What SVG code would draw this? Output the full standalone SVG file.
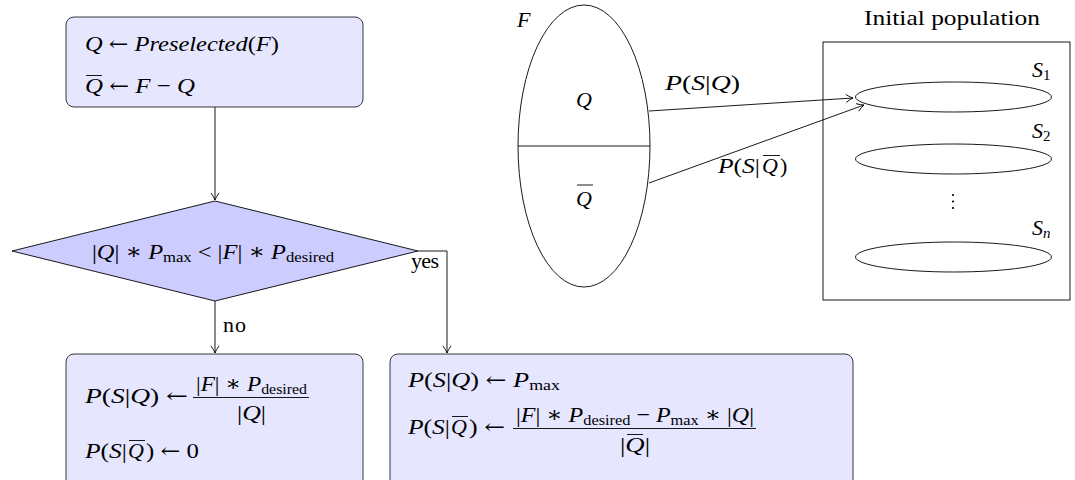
<svg xmlns="http://www.w3.org/2000/svg" width="1075" height="480" viewBox="0 0 1075 480">
<defs>
<marker id="ah" markerWidth="12" markerHeight="12" refX="0" refY="0" viewBox="-8 -6 10 12" orient="auto" markerUnits="userSpaceOnUse">
<path d="M-7,-4 Q-3,-1 0,0 Q-3,1 -7,4" fill="none" stroke="#000" stroke-width="0.9"/>
</marker>
</defs>
<style>
text{font-family:"Liberation Serif","DejaVu Serif",serif;font-size:22px;fill:#000}
.i{font-style:italic}
.sub{font-size:15px}
.ar{font-family:"DejaVu Serif",serif;font-size:21px}
.box{fill:#e6e6ff;stroke:#222;stroke-width:0.9}
.dia{fill:#ccccff;stroke:#000;stroke-width:0.9}
.ln{fill:none;stroke:#000;stroke-width:0.9}
.bar{stroke:#000;stroke-width:0.9}
.c{text-anchor:middle}
</style>
<g id="connectors">
<line class="ln" x1="215" y1="107" x2="215" y2="200" marker-end="url(#ah)"/>
<line class="ln" x1="215" y1="301" x2="215" y2="353" marker-end="url(#ah)"/>
<polyline class="ln" points="418,251 447,251 447,353" marker-end="url(#ah)"/>
<line class="ln" x1="649" y1="111" x2="853" y2="98" marker-end="url(#ah)"/>
<line class="ln" x1="649" y1="183" x2="864" y2="105" marker-end="url(#ah)"/>
<text x="223" y="332" textLength="23">no</text>
<text x="411" y="268" textLength="28">yes</text>
<text x="665" y="90" textLength="75" lengthAdjust="spacingAndGlyphs"><tspan class="i">P</tspan>(<tspan class="i">S</tspan>|<tspan class="i">Q</tspan>)</text>
<text x="718" y="173" textLength="42" lengthAdjust="spacingAndGlyphs"><tspan class="i">P</tspan>(<tspan class="i">S</tspan>|</text>
<text x="762" y="173" class="i">Q</text>
<text x="780" y="173">)</text>
<line class="bar" x1="763" y1="155.5" x2="780" y2="155.5"/>
</g>
<g id="init">
<rect class="box" x="66" y="17" width="297" height="90" rx="8"/>
<text x="85" y="51" textLength="194" lengthAdjust="spacingAndGlyphs"><tspan class="i">Q</tspan> <tspan class="ar">←</tspan> <tspan class="i">Preselected</tspan>(<tspan class="i">F</tspan>)</text>
<text x="85" y="93" textLength="110" lengthAdjust="spacingAndGlyphs"><tspan class="i">Q</tspan> <tspan class="ar">←</tspan> <tspan class="i">F</tspan> − <tspan class="i">Q</tspan></text>
<line class="bar" x1="86" y1="75.5" x2="102" y2="75.5"/>
</g>
<g id="decision">
<polygon class="dia" points="215,201 418,251 215,301 12,251"/>
<text x="92" y="259" textLength="242" lengthAdjust="spacingAndGlyphs">|<tspan class="i">Q</tspan>| ∗ <tspan class="i">P</tspan><tspan class="sub" dy="3">max</tspan><tspan dy="-3"> &lt; |</tspan><tspan class="i">F</tspan>| ∗ <tspan class="i">P</tspan><tspan class="sub" dy="3">desired</tspan></text>
</g>
<g id="no-branch">
<rect class="box" x="66" y="354" width="297" height="140" rx="8"/>
<text x="85" y="403" textLength="103" lengthAdjust="spacingAndGlyphs"><tspan class="i">P</tspan>(<tspan class="i">S</tspan>|<tspan class="i">Q</tspan>) <tspan class="ar">←</tspan></text>
<text x="196" y="391" textLength="111" lengthAdjust="spacingAndGlyphs">|<tspan class="i">F</tspan>| ∗ <tspan class="i">P</tspan><tspan class="sub" dy="3">desired</tspan></text>
<line class="bar" x1="193" y1="397.5" x2="309" y2="397.5"/>
<text x="237" y="420" textLength="29" lengthAdjust="spacingAndGlyphs">|<tspan class="i">Q</tspan>|</text>
<text x="85" y="458" textLength="42" lengthAdjust="spacingAndGlyphs"><tspan class="i">P</tspan>(<tspan class="i">S</tspan>|</text>
<text x="128" y="458" class="i">Q</text>
<line class="bar" x1="129" y1="440.5" x2="145" y2="440.5"/>
<text x="146" y="458" textLength="53" lengthAdjust="spacingAndGlyphs">) <tspan class="ar">←</tspan> 0</text>
</g>
<g id="yes-branch">
<rect class="box" x="390" y="354" width="463" height="140" rx="8"/>
<text x="408" y="387" textLength="152" lengthAdjust="spacingAndGlyphs"><tspan class="i">P</tspan>(<tspan class="i">S</tspan>|<tspan class="i">Q</tspan>) <tspan class="ar">←</tspan> <tspan class="i">P</tspan><tspan class="sub" dy="3">max</tspan></text>
<text x="408" y="434" textLength="42" lengthAdjust="spacingAndGlyphs"><tspan class="i">P</tspan>(<tspan class="i">S</tspan>|</text>
<text x="451" y="434" class="i">Q</text>
<line class="bar" x1="452" y1="416.5" x2="468" y2="416.5"/>
<text x="469" y="434" textLength="36" lengthAdjust="spacingAndGlyphs">) <tspan class="ar">←</tspan></text>
<text x="516" y="422" textLength="238" lengthAdjust="spacingAndGlyphs">|<tspan class="i">F</tspan>| ∗ <tspan class="i">P</tspan><tspan class="sub" dy="3">desired</tspan><tspan dy="-3"> − </tspan><tspan class="i">P</tspan><tspan class="sub" dy="3">max</tspan><tspan dy="-3"> ∗ |</tspan><tspan class="i">Q</tspan>|</text>
<line class="bar" x1="513" y1="428.5" x2="756" y2="428.5"/>
<text x="620" y="452" textLength="30" lengthAdjust="spacingAndGlyphs">|<tspan class="i">Q</tspan>|</text>
<line class="bar" x1="627" y1="434.5" x2="643" y2="434.5"/>
</g>
<g id="setF">
<ellipse class="ln" cx="584" cy="146" rx="66" ry="141"/>
<line class="ln" x1="518" y1="146" x2="650" y2="146"/>
<text x="517" y="27" class="i">F</text>
<text x="584" y="107" class="c i">Q</text>
<text x="584" y="206" class="c i">Q</text>
<line class="bar" x1="577" y1="185" x2="593" y2="185"/>
</g>
<g id="population">
<text x="864" y="25" textLength="176" lengthAdjust="spacingAndGlyphs">Initial population</text>
<rect class="ln" x="823" y="42" width="247" height="258"/>
<ellipse class="ln" cx="953.5" cy="97" rx="98" ry="15"/>
<ellipse class="ln" cx="953.5" cy="159" rx="98" ry="15"/>
<ellipse class="ln" cx="953.5" cy="257" rx="98" ry="15"/>
<text x="1032" y="77"><tspan class="i">S</tspan><tspan class="sub" dy="3">1</tspan></text>
<text x="1032" y="138"><tspan class="i">S</tspan><tspan class="sub" dy="3">2</tspan></text>
<text x="1032" y="235"><tspan class="i">S</tspan><tspan class="sub i" dy="3">n</tspan></text>
<circle cx="953" cy="195" r="1.1" fill="#000"/>
<circle cx="953" cy="201.5" r="1.1" fill="#000"/>
<circle cx="953" cy="208" r="1.1" fill="#000"/>
</g>
</svg>
